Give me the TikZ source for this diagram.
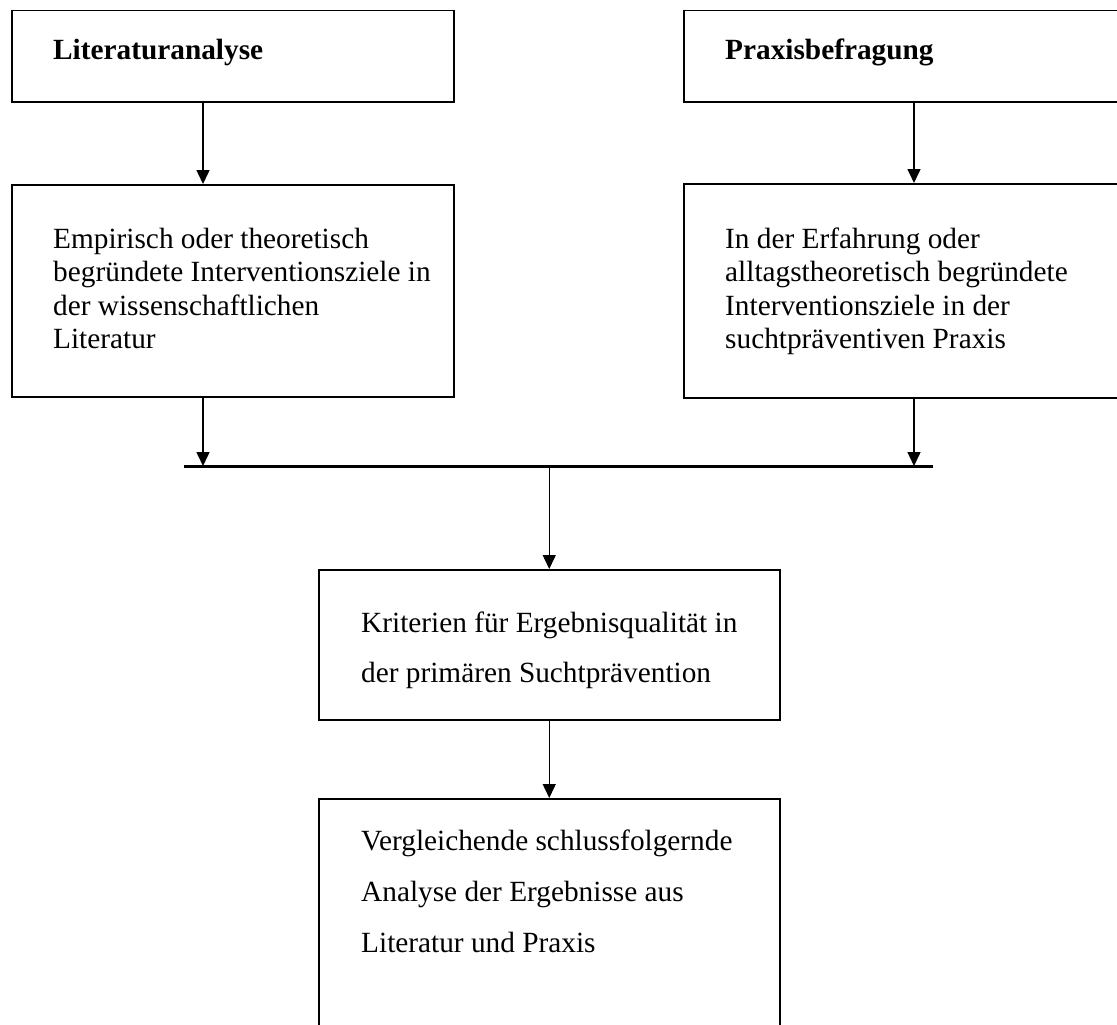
\documentclass[tikz,border=0pt]{standalone}
\usepackage{fontspec}
\setmainfont{Liberation Serif}
\usetikzlibrary{arrows.meta}
\tikzset{
  box/.style={draw=black, line width=1.5pt, rectangle, inner sep=0pt, anchor=north west},
  txt/.style={anchor=base west, inner sep=0pt, font=\fontsize{29.3pt}{33pt}\selectfont},
  ttl/.style={txt, font=\fontsize{29.3pt}{33pt}\selectfont\bfseries},
  arr/.style={draw=black, line width=1.5pt, -{Triangle[length=14pt,width=13pt]}},
  bar/.style={draw=black, line width=3pt}
}
\begin{document}
\begin{tikzpicture}[x=1pt, y=-1pt]
\useasboundingbox (0,0) rectangle (1117,1025);
\clip (0,0) rectangle (1117,1025);
% boxes
\node[box, minimum width=442pt, minimum height=91pt] (b1) at (11,10) {};
\node[box, minimum width=450pt, minimum height=91pt] (b2) at (683,10) {};
\node[box, minimum width=442pt, minimum height=212pt] (b3) at (11,184) {};
\node[box, minimum width=450pt, minimum height=214pt] (b4) at (683,183) {};
\node[box, minimum width=461pt, minimum height=150pt] (b5) at (318,569) {};
\node[box, minimum width=461pt, minimum height=260pt] (b6) at (318,798) {};
% texts
\node[ttl] (t1) at (53,60) {Literaturanalyse};
\node[ttl] (t2) at (725,60) {Praxisbefragung};
\node[txt] (t3a) at (53,248) {Empirisch oder theoretisch};
\node[txt] (t3b) at (53,281.5) {begründete Interventionsziele in};
\node[txt] (t3c) at (53,315) {der wissenschaftlichen};
\node[txt] (t3d) at (53,348) {Literatur};
\node[txt] (t4a) at (725,248) {In der Erfahrung oder};
\node[txt] (t4b) at (725,281.5) {alltagstheoretisch begründete};
\node[txt] (t4c) at (725,315) {Interventionsziele in der};
\node[txt] (t4d) at (725,348) {suchtpräventiven Praxis};
\node[txt] (t5a) at (361,632) {Kriterien für Ergebnisqualität in};
\node[txt] (t5b) at (361,682) {der primären Suchtprävention};
\node[txt] (t6a) at (361,850) {Vergleichende schlussfolgernde};
\node[txt] (t6b) at (361,901) {Analyse der Ergebnisse aus};
\node[txt] (t6c) at (361,952) {Literatur und Praxis};
% helper coordinates
\coordinate (xl) at (203,0);
\coordinate (xr) at (914,0);
\coordinate (barL) at (184,466);
\coordinate (barR) at (933,466);
% bar
\draw[bar] (barL) -- (barR);
% connectors
\draw[arr] (b1.south -| xl) -- (b3.north -| xl);
\draw[arr] (b2.south -| xr) -- (b4.north -| xr);
\draw[arr] (b3.south -| xl) -- (barL -| xl);
\draw[arr] (b4.south -| xr) -- (barL -| xr);
\draw[arr] (barL -| b5.north) -- (b5.north);
\draw[arr] (b5.south) -- (b6.north);
\end{tikzpicture}
\end{document}
